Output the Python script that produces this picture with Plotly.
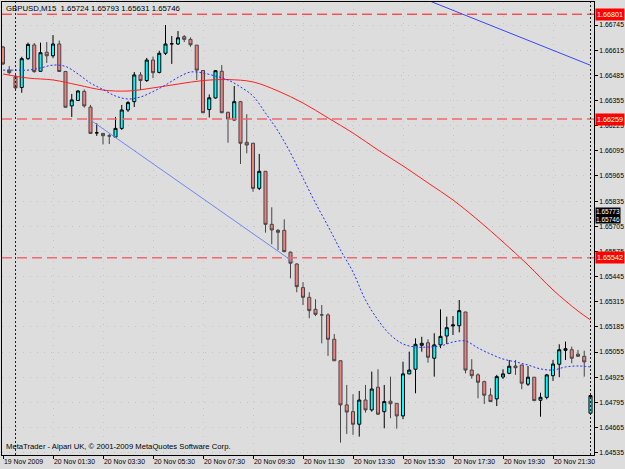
import plotly.graph_objects as go

# ---------------- data ----------------
bars = list(range(95))  # M15 bars, bar 0 = 19 Nov 2009 23:30

opens = [1.66631,1.66512,1.66478,1.66422,1.66571,1.66642,1.66506,1.66604,1.66586,1.66647,
         1.66505,1.66327,1.66355,1.66402,1.66321,1.66188,1.66185,1.66172,1.66166,1.66211,
         1.66306,1.66349,1.66487,1.66458,1.66564,1.66500,1.66599,1.66648,1.66647,1.66685,
         1.66671,1.66641,1.66510,1.66308,1.66368,1.66506,1.66294,1.66254,1.66349,1.66139,
         1.66134,1.65901,1.65989,1.65715,1.65684,1.65684,1.65571,1.65510,1.65388,1.65338,
         1.65276,1.65247,1.65247,1.65121,1.65010,1.64782,1.64747,1.64682,1.64807,1.64756,
         1.64873,1.64747,1.64801,1.64790,1.64725,1.64942,1.64966,1.65090,1.65103,1.65023,
         1.65092,1.65138,1.65190,1.65191,1.65262,1.64962,1.64937,1.64902,1.64833,1.64813,
         1.64926,1.64945,1.64983,1.64988,1.64889,1.64925,1.64806,1.64821,1.64933,1.64992,
         1.65064,1.65067,1.65044,1.65033,1.64739]
highs = [1.66637,1.66533,1.66487,1.66581,1.66654,1.66652,1.66654,1.66657,1.66693,1.66665,
         1.66506,1.66389,1.66409,1.66412,1.66332,1.66237,1.66186,1.66182,1.66270,1.66332,
         1.66352,1.66502,1.66502,1.66575,1.66582,1.66612,1.66745,1.66688,1.66714,1.66693,
         1.66681,1.66642,1.66512,1.66386,1.66512,1.66538,1.66297,1.66430,1.66350,1.66284,
         1.66135,1.66079,1.65990,1.65803,1.65691,1.65741,1.65574,1.65514,1.65416,1.65364,
         1.65328,1.65298,1.65255,1.65148,1.65011,1.64885,1.64837,1.64854,1.64885,1.64954,
         1.64966,1.64885,1.64928,1.64791,1.65005,1.65057,1.65126,1.65134,1.65121,1.65152,
         1.65276,1.65238,1.65241,1.65324,1.65263,1.65018,1.64945,1.64907,1.64868,1.64937,
         1.64966,1.65014,1.65014,1.64989,1.64983,1.64926,1.64845,1.64942,1.65014,1.65095,
         1.65109,1.65083,1.65066,1.65062,1.64833]
lows = [1.66538,1.66489,1.66414,1.66395,1.66564,1.66499,1.66504,1.66549,1.66575,1.66504,
        1.66319,1.66270,1.66352,1.66318,1.66184,1.66172,1.66128,1.66130,1.66161,1.66203,
        1.66296,1.66321,1.66409,1.66451,1.66471,1.66495,1.66590,1.66544,1.66642,1.66657,
        1.66633,1.66461,1.66290,1.66267,1.66365,1.66289,1.66137,1.66253,1.66027,1.66082,
        1.65884,1.65892,1.65672,1.65612,1.65582,1.65571,1.65436,1.65364,1.65298,1.65230,
        1.65241,1.65100,1.65035,1.65009,1.64587,1.64632,1.64627,1.64618,1.64742,1.64747,
        1.64730,1.64661,1.64713,1.64659,1.64708,1.64941,1.64842,1.65057,1.65000,1.64928,
        1.65075,1.65097,1.65143,1.65157,1.64945,1.64917,1.64816,1.64787,1.64798,1.64776,
        1.64916,1.64941,1.64937,1.64863,1.64880,1.64803,1.64721,1.64811,1.64906,1.64925,
        1.65014,1.64997,1.65031,1.64928,1.64738]
closes = [1.66544,1.66499,1.66420,1.66571,1.66645,1.66504,1.66602,1.66586,1.66647,1.66505,
          1.66320,1.66358,1.66404,1.66327,1.66185,1.66188,1.66173,1.66172,1.66211,1.66306,
          1.66344,1.66487,1.66458,1.66564,1.66499,1.66599,1.66647,1.66648,1.66679,1.66671,
          1.66643,1.66512,1.66292,1.66369,1.66509,1.66292,1.66259,1.66349,1.66134,1.66125,
          1.65901,1.65989,1.65715,1.65686,1.65674,1.65574,1.65514,1.65393,1.65338,1.65269,
          1.65250,1.65247,1.65121,1.65010,1.64782,1.64745,1.64682,1.64807,1.64756,1.64864,
          1.64734,1.64799,1.64788,1.64725,1.64942,1.64962,1.65095,1.65100,1.65028,1.65092,
          1.65136,1.65181,1.65195,1.65269,1.64962,1.64933,1.64899,1.64832,1.64799,1.64928,
          1.64942,1.64982,1.64974,1.64894,1.64925,1.64804,1.64821,1.64937,1.64993,1.65067,
          1.65072,1.65023,1.65033,1.65004,1.64830]

# fast moving average (blue dotted), every 2nd bar
fast_idx = list(range(0, 95, 2))
fast_ma = [1.66512,1.66512,1.66512,1.66523,1.66538,1.66531,1.66492,1.66445,1.66412,1.66378,
           1.66363,1.66373,1.66401,1.66435,1.66474,1.66502,1.66497,1.66481,1.66461,1.66425,
           1.66378,1.66290,1.66197,1.66084,1.65954,1.65825,1.65706,1.65582,1.65469,1.65324,
           1.65221,1.65143,1.65097,1.65081,1.65081,1.65086,1.65107,1.65112,1.65076,1.65045,
           1.65019,1.65004,1.64988,1.64968,1.64962,1.64978,1.64983,1.64978]

# slow moving average (red), every 4th bar
slow_idx = list(range(0, 93, 4)) + [94]
slow_ma = [1.66492,1.66471,1.66461,1.66435,1.66409,1.66404,1.66420,1.66440,1.66458,1.66463,
           1.66451,1.66404,1.66342,1.66265,1.66187,1.66099,1.66017,1.65929,1.65841,1.65737,
           1.65624,1.65505,1.65376,1.65267,1.65221]

trend1_idx = [14, 46.5]
trend1_px = [1.66254, 1.65520]
trend2_idx = [60, 94]
trend2_px = [1.66976, 1.66537]

h_levels = [1.66801, 1.66259, 1.65542]
bid_ask = [1.65773, 1.65746]
separators = [2, 94]

y_ticks = [1.66745, 1.66615, 1.66485, 1.66355, 1.66225, 1.66095, 1.65965, 1.65835, 1.65705,
           1.65575, 1.65445, 1.65315, 1.65185, 1.65055, 1.64925, 1.64795, 1.64665, 1.64535]
x_tick_idx = [0, 8, 16, 24, 32, 40, 48, 56, 64, 72, 80, 88]
x_tick_text = ["19 Nov 2009", "20 Nov 01:30", "20 Nov 03:30", "20 Nov 05:30", "20 Nov 07:30",
               "20 Nov 09:30", "20 Nov 11:30", "20 Nov 13:30", "20 Nov 15:30", "20 Nov 17:30",
               "20 Nov 19:30", "20 Nov 21:30"]

title_text = "GBPUSD,M15  1.65724 1.65793 1.65631 1.65746"
footer_text = "MetaTrader - Alpari UK, \u00a9 2001-2009 MetaQuotes Software Corp."

# ---------------- figure ----------------
FONT = "Liberation Sans, Arial, sans-serif"
BG = "#dddddd"

fig = go.Figure()

fig.add_trace(go.Candlestick(
    x=bars, open=opens, high=highs, low=lows, close=closes,
    increasing=dict(fillcolor="#00ffff", line=dict(color="#000000", width=1)),
    decreasing=dict(fillcolor="#f08080", line=dict(color="#454545", width=1)),
    whiskerwidth=0, hoverinfo="skip", showlegend=False))

fig.add_trace(go.Scatter(x=slow_idx, y=slow_ma, mode="lines", line=dict(color="#ff2020", width=1, shape="spline"),
                         hoverinfo="skip", showlegend=False))
fig.add_trace(go.Scatter(x=fast_idx, y=fast_ma, mode="lines",
                         line=dict(color="#2030ff", width=1, dash="2px,2px", shape="spline"),
                         hoverinfo="skip", showlegend=False))
fig.add_trace(go.Scatter(x=trend1_idx, y=trend1_px, mode="lines", line=dict(color="#6f86f0", width=1),
                         hoverinfo="skip", showlegend=False))
fig.add_trace(go.Scatter(x=trend2_idx, y=trend2_px, mode="lines", line=dict(color="#3848f0", width=1),
                         hoverinfo="skip", showlegend=False))

shapes = []
for i, lv in enumerate(h_levels):
    shapes.append(dict(type="line", xref="paper", x0=0, x1=1, yref="y", y0=lv, y1=lv,
                       line=dict(color="#ff1010" if i == 0 else "#f06a6a", width=1 if i == 0 else 1.5,
                                 dash="10px,5px"), layer="above"))
for s in separators:
    shapes.append(dict(type="line", xref="x", x0=s, x1=s, yref="paper", y0=0, y1=1,
                       line=dict(color="#202020", width=1, dash="2px,2px"), layer="above"))
fig.update_layout(shapes=shapes)

annotations = []
for lv in h_levels:
    annotations.append(dict(xref="paper", x=1, xanchor="left", xshift=1, yref="y", y=lv, yanchor="middle",
                            text=f"{lv:.5f}", showarrow=False, bgcolor="#ff0000", borderpad=1,
                            font=dict(family=FONT, size=7.2, color="#ffffff")))
# bid / ask pair shown as one stacked black label
annotations.append(dict(xref="paper", x=1, xanchor="left", xshift=1, yref="y",
                        y=(bid_ask[0] + bid_ask[1]) / 2, yanchor="middle",
                        text=f"{bid_ask[0]:.5f}<br>{bid_ask[1]:.5f}", showarrow=False,
                        bgcolor="#000000", borderpad=0, align="left",
                        font=dict(family=FONT, size=6.5, color="#ffffff")))
annotations.append(dict(xref="paper", x=0, xanchor="left", xshift=2, yref="paper", y=1, yanchor="top", yshift=0,
                        text=title_text, showarrow=False, font=dict(family=FONT, size=7.8, color="#000000")))
annotations.append(dict(xref="paper", x=0, xanchor="left", xshift=2, yref="paper", y=0, yanchor="bottom", yshift=2,
                        text=footer_text, showarrow=False, font=dict(family=FONT, size=7.7, color="#000000")))
fig.update_layout(annotations=annotations)

fig.update_layout(
    width=625, height=469,
    margin=dict(l=2, r=31, t=2, b=14, autoexpand=False),
    paper_bgcolor=BG, plot_bgcolor=BG,
    showlegend=False,
    xaxis=dict(range=[-0.16, 94.56], rangeslider=dict(visible=False), showgrid=True,
               gridcolor="#c4c4c4", griddash="1px,6px", gridwidth=1,
               tickmode="array", tickvals=x_tick_idx, ticktext=x_tick_text, tickangle=0,
               ticks="outside", ticklen=3, tickcolor="#000000", ticklabelposition="outside right",
               tickfont=dict(family=FONT, size=6.9, color="#000000"), automargin=False,
               showline=True, linecolor="#000000", linewidth=1, mirror=True, zeroline=False, fixedrange=True),
    yaxis=dict(range=[1.64523, 1.66864], side="right", showgrid=True,
               gridcolor="#c4c4c4", griddash="1px,6px", gridwidth=1,
               tickmode="array", tickvals=y_ticks, ticktext=[f"{v:.5f}" for v in y_ticks],
               ticks="outside", ticklen=3, tickcolor="#000000", automargin=False,
               tickfont=dict(family=FONT, size=6.8, color="#000000"),
               showline=True, linecolor="#000000", linewidth=1, mirror=True, zeroline=False, fixedrange=True),
)

fig.write_html("out.html")
